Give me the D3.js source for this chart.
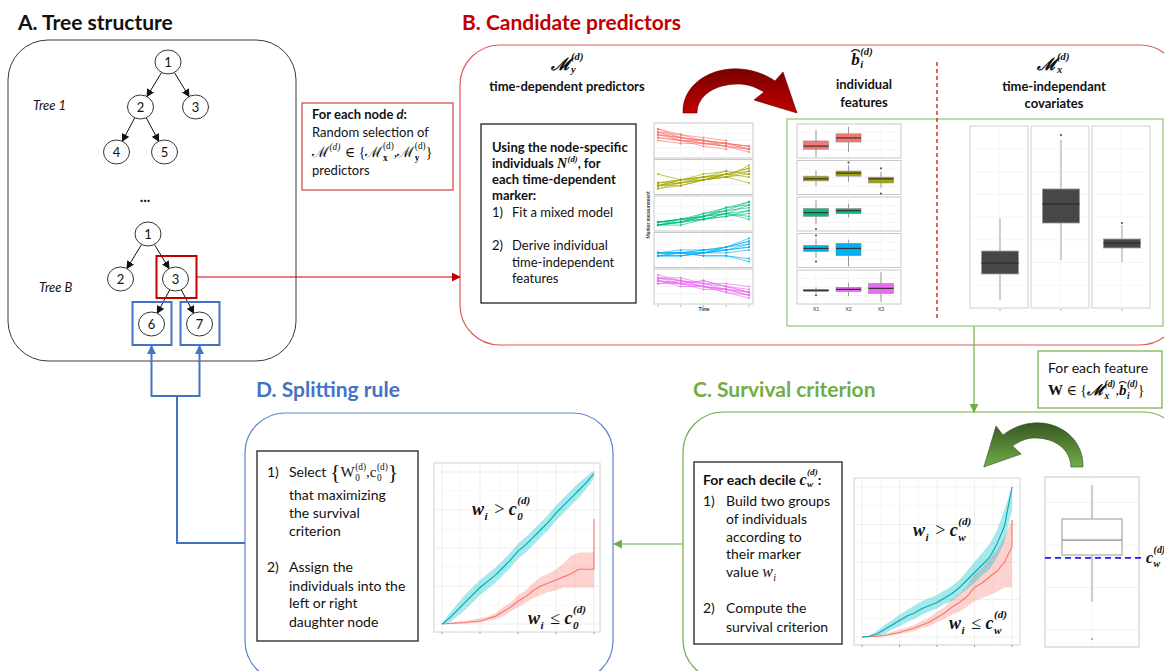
<!DOCTYPE html>
<html><head><meta charset="utf-8">
<script src="https://cdn.jsdelivr.net/npm/d3@7"></script>
<style>body{margin:0;background:#fff}svg{display:block}</style>
</head><body><svg id="c" width="1164" height="671"></svg>
<script>
// ---------------- DATA ----------------
const tree1Links = [["1",""],["2","1"],["3","1"],["4","2"],["5","2"]];
const treeBLinks = [["1",""],["2","1"],["3","1"],["6","3"],["7","3"]];
const treeLabels = ["Tree 1","Tree B"];

const markerTimes = [0,1,2,3,4];
const markerColors = ["#F8766D","#A3A500","#00BF7D","#00B0F6","#E76BF3"];
const marker1 = [[9,6,5,4,3],[8,6,5,3,2],[7,5,4,4,2],[8,7,5,4,3],[6,5,4,3,2],[7,6,4,3],[9,7,6,5],[5,4,4,3,1],[6,5,3,2],[8,5,5,4,3],[7,6,5,4,2]];
const marker2 = [[2,4,5,6,8],[3,4,5,7,6],[1,3,4,5,7],[2,3,5,5,9],[6,4,5,6],[3,3,4,6,5],[2,4,4,5,3],[1,2,4,6,8],[3,4,6,7],[2,3,4,5,6],[2,2,4,6,7]];
const marker3 = [[1,2,4,6,9],[2,3,4,7,8],[1,2,3,5,6],[2,3,5,6,7],[1,1,3,4,5],[2,3,4,5,3],[1,2,5,7,9],[2,2,3,4,6],[1,3,4,6],[2,3,3,5,4],[1,2,4,5,8]];
const marker4 = [[4,4,4,6,9],[3,4,5,6,8],[4,4,4,5,7],[3,3,4,5,6],[4,4,3,3,2],[3,3,4,4,5],[4,5,5,6,8],[3,4,3,3,1],[4,4,4,5],[3,3,4,6,7],[4,4,5,5,6]];
const marker5 = [[8,7,6,5,3],[7,6,5,4,2],[8,6,7,5,4],[6,7,5,4,2],[7,5,5,3,1],[8,7,6,6,5],[7,6,4,4,3],[6,6,5,3,2],[8,8,6,4],[7,6,7,5,3],[9,7,5,4,3]];
const markers = [marker1,marker2,marker3,marker4,marker5];

const featureNames = ["X1","X2","X3"];
// [feature, lo, q1, med, q3, hi, outliers]
const feat1 = [["X1",0.3,2.6,3.5,5.0,8.2,[]],["X2",1.8,4.7,5.9,7.1,9.1,[]]];
const feat2 = [["X1",2.6,4.0,4.6,5.4,7.1,[]],["X2",3.7,5.4,6.3,6.9,8.6,[9.4]],["X3",2.0,3.4,4.6,5.1,6.6,[7.7,0.3]]];
const feat3 = [["X1",2.0,4.3,5.4,6.6,9.1,[0.6]],["X2",4.0,5.1,6.0,6.6,8.0,[]]];
const feat4 = [["X1",2.9,4.7,5.6,6.5,8.5,[9.4,1.8]],["X2",0.3,3.5,5.6,7.1,8.2,[]]];
const feat5 = [["X1",3.1,3.7,4.0,4.3,4.9,[2.6]],["X2",2.3,3.7,4.3,4.9,6.3,[]],["X3",0.6,3.1,4.6,6.0,9.4,[]]];
const features = [feat1,feat2,feat3,feat4,feat5];

const covariates = [["C1",0.44,1.87,2.47,3.13,4.95,[]],["C2",2.64,4.67,5.71,6.54,9.23,[9.5]],["C3",2.53,3.30,3.57,3.79,4.56,[4.67]]];
const criterionBox = [9.53,5.41,6.29,7.53,2.65,[0.47]]; // hi, q1, med, q3, lo, outliers
const criterionCut = 5.24;

const survTime = [0,0.2,0.4,0.6,0.8,1.0,1.2,1.4,1.6,1.8,2.0,2.2,2.4,2.6,2.8,3.0,3.2,3.4,3.6,3.8,4.0];
const dHigh   = [0,0.04,0.09,0.14,0.19,0.24,0.28,0.32,0.37,0.42,0.48,0.52,0.57,0.62,0.67,0.73,0.78,0.83,0.88,0.93,0.99];
const dHighLo = [0,0.01,0.05,0.09,0.14,0.19,0.23,0.27,0.32,0.37,0.43,0.47,0.52,0.57,0.62,0.68,0.73,0.78,0.83,0.89,0.96];
const dHighHi = [0,0.07,0.13,0.19,0.24,0.29,0.33,0.37,0.42,0.47,0.53,0.57,0.62,0.67,0.72,0.78,0.83,0.88,0.93,0.97,1.01];
const dLow    = [0,0.003,0.007,0.01,0.015,0.02,0.035,0.05,0.08,0.11,0.15,0.18,0.22,0.25,0.27,0.29,0.31,0.33,0.36,0.36,0.36];
const dLowLo  = [0,0,0,0.002,0.005,0.01,0.02,0.03,0.05,0.08,0.11,0.14,0.17,0.19,0.21,0.22,0.24,0.24,0.24,0.24,0.24];
const dLowHi  = [0,0.01,0.015,0.02,0.03,0.04,0.05,0.07,0.11,0.14,0.19,0.22,0.27,0.31,0.33,0.36,0.40,0.45,0.47,0.47,0.47];
const dLowEnd = 0.69;
const cHigh   = [0,0.005,0.02,0.05,0.08,0.11,0.14,0.16,0.19,0.21,0.23,0.26,0.29,0.33,0.38,0.43,0.48,0.53,0.62,0.74,1.0];
const cHighLo = [0,0,0.005,0.02,0.05,0.07,0.10,0.12,0.15,0.17,0.19,0.22,0.24,0.28,0.32,0.36,0.41,0.45,0.53,0.63,0.85];
const cHighHi = [0,0.01,0.04,0.08,0.11,0.15,0.18,0.21,0.24,0.26,0.28,0.31,0.34,0.38,0.44,0.50,0.56,0.62,0.71,0.85,1.0];
const cLow    = [0,0.002,0.005,0.01,0.02,0.03,0.045,0.06,0.08,0.10,0.13,0.16,0.20,0.23,0.27,0.33,0.36,0.40,0.44,0.50,0.60];
const cLowLo  = [0,0,0,0.005,0.01,0.02,0.03,0.04,0.06,0.07,0.10,0.12,0.15,0.17,0.20,0.24,0.26,0.28,0.30,0.33,0.33];
const cLowHi  = [0,0.005,0.01,0.02,0.035,0.05,0.065,0.08,0.11,0.13,0.17,0.20,0.25,0.29,0.34,0.42,0.46,0.52,0.58,0.67,0.78];
const cLowEnd = 0.78;

// ---------------- DRAWING ----------------
const SANS = "Lato, 'Open Sans', sans-serif";
const SERIF = "'Liberation Serif', 'DejaVu Serif', serif";
const svg = d3.select("#c");
const defs = svg.append("defs");
function marker(id, color, w) {
  defs.append("marker").attr("id", id).attr("viewBox", "0 0 10 10").attr("refX", 9).attr("refY", 5)
    .attr("markerWidth", w).attr("markerHeight", w).attr("markerUnits", "userSpaceOnUse").attr("orient", "auto")
    .append("path").attr("d", "M0,0L10,5L0,10z").attr("fill", color);
}
marker("mBlack", "#111", 8); marker("mRed", "#C00000", 9); marker("mBlue", "#4472C4", 9); marker("mGreen", "#70AD47", 9);

function rich(parent, x, y, tokens, o = {}) {
  const g = parent.append("g");
  const size = o.size || 13, fam = o.family || SANS, wt = o.weight || "normal", st = o.style || "normal", fill = o.fill || "#111";
  let cx = 0;
  const mk = (txt, px, py, sz, f, w, s) => g.append("text").attr("x", px).attr("y", py)
    .attr("xml:space", "preserve").style("white-space", "pre")
    .style("font-family", f).style("font-size", sz + "px").style("font-weight", w).style("font-style", s)
    .attr("fill", fill).text(txt);
  tokens.forEach(tk => {
    if (typeof tk === "string") tk = { t: tk };
    const sz = tk.size || size, f = tk.family || fam, w = tk.weight || wt, s = tk.style || st;
    let bw = 0;
    if (tk.t) { const e = mk(tk.t, cx, tk.dy || 0, sz, f, w, s); bw = e.node().getComputedTextLength(); }
    if (tk.hat) {
      g.append("path").attr("d", `M${cx},${-sz * 0.78} Q${cx + bw * 0.5},${-sz * 1.02} ${cx + bw},${-sz * 0.78}`)
        .attr("fill", "none").attr("stroke", fill).attr("stroke-width", 1.1);
    }
    cx += bw;
    let sw = 0; const ss = sz * (tk.ssz || 0.62);
    if (tk.sup) { const e = mk(tk.sup, cx + 0.5, -sz * (tk.supUp || 0.45), ss, tk.supFamily || f, tk.supWeight || w, tk.supStyle || s); sw = Math.max(sw, e.node().getComputedTextLength() + 0.5); }
    if (tk.sub) { const e = mk(tk.sub, cx + 0.5, sz * (tk.subDown || 0.26), ss, tk.subFamily || f, tk.subWeight || w, tk.subStyle || s); sw = Math.max(sw, e.node().getComputedTextLength() + 0.5); }
    cx += sw + (tk.gap || 0);
  });
  const a = o.anchor || "start";
  const dx = a === "middle" ? -cx / 2 : a === "end" ? -cx : 0;
  g.attr("transform", `translate(${x + dx},${y})`);
  return g;
}
function txt(x, y, s, o = {}) {
  return svg.append("text").attr("x", x).attr("y", y).text(s)
    .attr("text-anchor", o.anchor || "start").style("font-family", o.family || SANS)
    .style("font-size", (o.size || 13) + "px").style("font-weight", o.weight || "normal")
    .style("font-style", o.style || "normal").attr("fill", o.fill || "#111");
}
function rect(x, y, w, h, stroke, sw, rx, fill) {
  return svg.append("rect").attr("x", x).attr("y", y).attr("width", w).attr("height", h)
    .attr("rx", rx || 0).attr("fill", fill || "none").attr("stroke", stroke).attr("stroke-width", sw);
}

// Panel frames
rect(8, 40, 288, 321, "#3a3a3a", 1, 40);
rect(460, 45, 720, 300, "#E05A5A", 1.2, 40);
rect(683, 412, 500, 268, "#70AD47", 1.2, 40);
rect(245, 413, 368, 268, "#5B85D0", 1.2, 40);

// Titles
txt(18, 30, "A. Tree structure", { size: 21, weight: "bold", fill: "#111" });
txt(462, 30, "B. Candidate predictors", { size: 21, weight: "bold", fill: "#C00000" });
txt(693, 397, "C. Survival criterion", { size: 21, weight: "bold", fill: "#70AD47" });
txt(256, 397, "D. Splitting rule", { size: 21, weight: "bold", fill: "#4472C4" });

// ---- Trees ----
function drawTree(links, rootX, rootY) {
  const root = d3.stratify().id(d => d[0]).parentId(d => d[1] || null)(links);
  d3.tree().nodeSize([50, 45]).separation((a, b) => a.depth === 1 ? 1.1 : 0.96)(root);
  const off = rootX - root.x;
  const nodes = root.descendants();
  nodes.forEach(n => { n.px = n.x + off; n.py = rootY + n.y; });
  const rx = 13, ry = 12;
  root.links().forEach(l => {
    const dx = l.target.px - l.source.px, dy = l.target.py - l.source.py;
    const ang = Math.atan2(dy, dx);
    const rad = (a) => (rx * ry) / Math.sqrt((ry * Math.cos(a)) ** 2 + (rx * Math.sin(a)) ** 2);
    const r1 = rad(ang);
    svg.append("line").attr("x1", l.source.px + r1 * Math.cos(ang)).attr("y1", l.source.py + r1 * Math.sin(ang))
      .attr("x2", l.target.px - r1 * Math.cos(ang)).attr("y2", l.target.py - r1 * Math.sin(ang))
      .attr("stroke", "#111").attr("stroke-width", 1).attr("marker-end", "url(#mBlack)");
  });
  const ng = svg.append("g").selectAll("g").data(nodes).join("g").attr("transform", d => `translate(${d.px},${d.py})`);
  ng.append("ellipse").attr("rx", rx).attr("ry", ry).attr("fill", "#fff").attr("stroke", "#333").attr("stroke-width", 1);
  ng.append("text").attr("text-anchor", "middle").attr("y", 5).text(d => d.id)
    .style("font-family", SANS).style("font-size", "13px").attr("fill", "#111");
  const m = {}; nodes.forEach(n => m[n.id] = n); return m;
}
const t1 = drawTree(tree1Links, 168, 62);
const tB = drawTree(treeBLinks, 148, 234);
txt(33, 110, treeLabels[0], { style: "italic", size: 13 });
txt(39, 292, treeLabels[1], { style: "italic", size: 13 });
txt(145, 202, "...", { anchor: "middle", size: 15, weight: "bold" });

// highlight boxes
const n3 = tB["3"], n6 = tB["6"], n7 = tB["7"];
rect(n3.px - 19, n3.py - 23, 40, 42, "#C00000", 2);
rect(n6.px - 19, n6.py - 22, 39, 43, "#4472C4", 2);
rect(n7.px - 19, n7.py - 22, 39, 43, "#4472C4", 2);

// connectors
svg.append("line").attr("x1", n3.px + 21).attr("y1", 277).attr("x2", 460).attr("y2", 277)
  .attr("stroke", "#C00000").attr("stroke-width", 1).attr("marker-end", "url(#mRed)");
const bl = "#4472C4";
svg.append("path").attr("d", `M245,543 H177 V396`).attr("fill", "none").attr("stroke", bl).attr("stroke-width", 2);
svg.append("path").attr("d", `M152,396 H199`).attr("fill", "none").attr("stroke", bl).attr("stroke-width", 2);
svg.append("line").attr("x1", n6.px).attr("y1", 397).attr("x2", n6.px).attr("y2", 346).attr("stroke", bl).attr("stroke-width", 2).attr("marker-end", "url(#mBlue)");
svg.append("line").attr("x1", n7.px).attr("y1", 397).attr("x2", n7.px).attr("y2", 346).attr("stroke", bl).attr("stroke-width", 2).attr("marker-end", "url(#mBlue)");
svg.append("line").attr("x1", 974).attr("y1", 326).attr("x2", 974).attr("y2", 412).attr("stroke", "#70AD47").attr("stroke-width", 1.2).attr("marker-end", "url(#mGreen)");
svg.append("line").attr("x1", 683).attr("y1", 544).attr("x2", 614).attr("y2", 544).attr("stroke", "#70AD47").attr("stroke-width", 1.2).attr("marker-end", "url(#mGreen)");

// ---- "For each node" box ----
rect(302, 103, 151, 87, "#D04040", 1.2);
rich(svg, 312, 119, ["For each node ", { t: "d", style: "italic" }, ":"], { weight: "bold", size: 13 });
txt(312, 137, "Random selection of", { size: 13 });
rich(svg, 312, 157, [
  { t: "ℳ", family: SERIF, size: 15, sup: "(d)", supStyle: "italic", gap: 1 }, { t: " ∈ {", family: SERIF, size: 14 },
  { t: "ℳ", family: SERIF, size: 15, sup: "(d)", sub: "x", subWeight: "bold", supUp: 0.55 }, { t: ",", family: SERIF, size: 14 },
  { t: "ℳ", family: SERIF, size: 15, sup: "(d)", sub: "y", subWeight: "bold", supUp: 0.55 }, { t: "}", family: SERIF, size: 14 }
], { size: 14 });
txt(312, 175, "predictors", { size: 13 });

// ---- Panel B ----
rich(svg, 567, 70, [{ t: "ℳ", sup: "(d)", sub: "y", supUp: 0.6, subDown: 0.18 }], { family: SERIF, weight: "bold", style: "italic", size: 17, anchor: "middle" });
txt(567, 91, "time-dependent predictors", { anchor: "middle", weight: "bold", size: 13 });
rect(481, 124, 155, 179, "#222", 1.3);
txt(492, 152, "Using the node-specific", { weight: "bold", size: 13 });
rich(svg, 492, 168, ["individuals ", { t: "N", family: SERIF, style: "italic", sup: "(d)", size: 14 }, ", for"], { weight: "bold", size: 13 });
txt(492, 184, "each time-dependent", { weight: "bold", size: 13 });
txt(492, 200, "marker:", { weight: "bold", size: 13 });
txt(492, 217, "1)", { size: 13 }); txt(512, 217, "Fit a mixed model", { size: 13 });
txt(492, 250, "2)", { size: 13 }); txt(512, 250, "Derive individual", { size: 13 });
txt(512, 267, "time-independent", { size: 13 }); txt(512, 283, "features", { size: 13 });

// spaghetti panels
const spX = d3.scaleLinear().domain([0, 4]).range([658, 749]);
markers.forEach((inds, i) => {
  const top = 123 + i * 36.5, h = 35;
  const y = d3.scaleLinear().domain([0, 10]).range([top + h - 3, top + 3]);
  const g = svg.append("g");
  g.append("rect").attr("x", 654).attr("y", top).attr("width", 99).attr("height", h).attr("fill", "#fff").attr("stroke", "#c8c8c8").attr("stroke-width", 1);
  [1, 2, 3].forEach(t => g.append("line").attr("x1", spX(t)).attr("x2", spX(t)).attr("y1", top).attr("y2", top + h).attr("stroke", "#eee").attr("stroke-width", 0.6));
  [2.5, 5, 7.5].forEach(v => g.append("line").attr("x1", 654).attr("x2", 753).attr("y1", y(v)).attr("y2", y(v)).attr("stroke", "#eee").attr("stroke-width", 0.6));
  const line = d3.line().x((d, k) => spX(markerTimes[k])).y(d => y(d));
  inds.forEach(ind => {
    g.append("path").attr("d", line(ind)).attr("fill", "none").attr("stroke", markerColors[i]).attr("stroke-width", 0.9).attr("stroke-opacity", 0.7);
    ind.forEach((v, k) => g.append("circle").attr("cx", spX(markerTimes[k])).attr("cy", y(v)).attr("r", 1.1).attr("fill", markerColors[i]).attr("fill-opacity", 0.8));
  });
});
markerTimes.forEach(t => svg.append("line").attr("x1", spX(t)).attr("x2", spX(t)).attr("y1", 305).attr("y2", 307).attr("stroke", "#888").attr("stroke-width", 0.6));
txt(704, 311, "Time", { anchor: "middle", size: 5, weight: "bold", fill: "#333" });
svg.append("text").attr("transform", "translate(650,215) rotate(-90)").attr("text-anchor", "middle").text("Marker measurement")
  .style("font-family", SANS).style("font-size", "5px").style("font-weight", "bold").attr("fill", "#333");

// curved red arrow
const gr = defs.append("linearGradient").attr("id", "gRed").attr("x1", "0").attr("y1", "0").attr("x2", "0").attr("y2", "1");
gr.append("stop").attr("offset", "0").attr("stop-color", "#7a0000");
gr.append("stop").attr("offset", "1").attr("stop-color", "#C00000");
const arrowPath = "M683,113 C682,85 710,67 740,69 C755,70 766,75 775,81 L783,72 L797,113 L754,100 L764,92 C754,86 746,84 738,84 C716,84 697,95 697,113 Z";
svg.append("path").attr("d", arrowPath).attr("fill", "url(#gRed)").attr("stroke", "#5a0000").attr("stroke-width", 0.6);

// green rect + feature boxplots
rect(787, 119, 376, 207, "#A9D18E", 1.5);
rich(svg, 862, 65, [{ t: "b", hat: true, sup: "(d)", sub: "i", supUp: 0.6, subDown: 0.18 }], { family: SERIF, weight: "bold", style: "italic", size: 17, anchor: "middle" });
txt(864, 89, "individual", { anchor: "middle", weight: "bold", size: 13 });
txt(864, 107, "features", { anchor: "middle", weight: "bold", size: 13 });
svg.append("line").attr("x1", 937).attr("x2", 937).attr("y1", 62).attr("y2", 318).attr("stroke", "#C00000").attr("stroke-width", 1.2).attr("stroke-dasharray", "4,3");
rich(svg, 1053, 70, [{ t: "ℳ", sup: "(d)", sub: "x", supUp: 0.6, subDown: 0.18 }], { family: SERIF, weight: "bold", style: "italic", size: 17, anchor: "middle" });
txt(1054, 91, "time-independant", { anchor: "middle", weight: "bold", size: 13 });
txt(1054, 108, "covariates", { anchor: "middle", weight: "bold", size: 13 });

function drawBox(g, cx, bw, y, s, o) {
  const [lo, q1, med, q3, hi, outs] = s;
  g.append("line").attr("x1", cx).attr("x2", cx).attr("y1", y(hi)).attr("y2", y(q3)).attr("stroke", o.wh).attr("stroke-width", o.whw);
  g.append("line").attr("x1", cx).attr("x2", cx).attr("y1", y(q1)).attr("y2", y(lo)).attr("stroke", o.wh).attr("stroke-width", o.whw);
  g.append("rect").attr("x", cx - bw / 2).attr("y", y(q3)).attr("width", bw).attr("height", y(q1) - y(q3))
    .attr("fill", o.fill).attr("stroke", o.stroke).attr("stroke-width", o.sw);
  g.append("line").attr("x1", cx - bw / 2).attr("x2", cx + bw / 2).attr("y1", y(med)).attr("y2", y(med)).attr("stroke", o.med).attr("stroke-width", o.medw);
  outs.forEach(v => g.append("circle").attr("cx", cx).attr("cy", y(v)).attr("r", o.or).attr("fill", o.oc));
}
const fx = d3.scalePoint().domain(featureNames).range([816, 881]);
features.forEach((fs, i) => {
  const top = 124 + i * 36.5, h = 34;
  const y = d3.scaleLinear().domain([0, 10]).range([top + h, top]);
  const g = svg.append("g");
  g.append("rect").attr("x", 797).attr("y", top).attr("width", 104).attr("height", h).attr("fill", "#fff").attr("stroke", "#c8c8c8").attr("stroke-width", 1);
  [2.5, 5, 7.5].forEach(v => g.append("line").attr("x1", 797).attr("x2", 901).attr("y1", y(v)).attr("y2", y(v)).attr("stroke", "#eee").attr("stroke-width", 0.6));
  featureNames.forEach(f => g.append("line").attr("x1", fx(f)).attr("x2", fx(f)).attr("y1", top).attr("y2", top + h).attr("stroke", "#f0f0f0").attr("stroke-width", 0.6));
  fs.forEach(d => drawBox(g, fx(d[0]), 25, y, d.slice(1), { fill: markerColors[i], stroke: "#888", sw: 0.6, med: "#333", medw: 1.2, wh: "#999", whw: 1, or: 1, oc: "#444" }));
});
featureNames.forEach(f => txt(fx(f), 311, f, { anchor: "middle", size: 5, fill: "#333" }));

// covariate boxplots
const covY = d3.scaleLinear().domain([0, 10]).range([308, 126]);
covariates.forEach((c, i) => {
  const x0 = 970 + i * 61, g = svg.append("g");
  g.append("rect").attr("x", x0).attr("y", 126).attr("width", 58).attr("height", 182).attr("fill", "#fff").attr("stroke", "#cfcfcf").attr("stroke-width", 1);
  [1.25, 2.5, 3.75, 5, 6.25, 7.5, 8.75].forEach(v => g.append("line").attr("x1", x0).attr("x2", x0 + 58).attr("y1", covY(v)).attr("y2", covY(v)).attr("stroke", "#f0f0f0").attr("stroke-width", 0.7));
  g.append("line").attr("x1", x0 + 29).attr("x2", x0 + 29).attr("y1", 126).attr("y2", 308).attr("stroke", "#f3f3f3").attr("stroke-width", 0.7);
  drawBox(g, x0 + 30, 37, covY, c.slice(1), { fill: "#474747", stroke: "#9a9a9a", sw: 0.8, med: "#2a2a2a", medw: 1.2, wh: "#cfcfcf", whw: 2, or: 1.1, oc: "#555" });
  g.append("line").attr("x1", x0 + 30).attr("x2", x0 + 30).attr("y1", 309).attr("y2", 311).attr("stroke", "#aaa");
});

// ---- "For each feature" box ----
rect(1038, 351, 124, 57, "#70AD47", 1.2);
txt(1048, 373, "For each feature", { size: 14 });
rich(svg, 1048, 395, [
  { t: "W", weight: "bold", size: 15 }, { t: " ∈ {", size: 14 },
  { t: "ℳ", style: "italic", weight: "bold", size: 15, sup: "(d)", sub: "x", supUp: 0.55 }, { t: ",", size: 14 },
  { t: "b", hat: true, style: "italic", weight: "bold", size: 15, sup: "(d)", sub: "i", supUp: 0.55 }, { t: "}", size: 14 }
], { family: SERIF, size: 14 });

// ---- survival plots ----
function survPlot(fr, xr, yr, hi, hiLo, hiHi, lo, loLo, loHi, loEnd, labTop, labBot, subTxt) {
  const g = svg.append("g");
  const x = d3.scaleLinear().domain([0, 4]).range(xr);
  const y = d3.scaleLinear().domain([0, 1]).range(yr);
  g.append("rect").attr("x", fr[0]).attr("y", fr[1]).attr("width", fr[2]).attr("height", fr[3]).attr("fill", "#fff").attr("stroke", "#d9d9d9").attr("stroke-width", 1.2);
  d3.range(0, 4.01, 0.5).forEach(t => g.append("line").attr("x1", x(t)).attr("x2", x(t)).attr("y1", fr[1]).attr("y2", fr[1] + fr[3]).attr("stroke", t % 1 ? "#f5f5f5" : "#ebebeb").attr("stroke-width", 0.8));
  d3.range(0, 1.01, 0.125).forEach(v => g.append("line").attr("x1", fr[0]).attr("x2", fr[0] + fr[2]).attr("y1", y(v)).attr("y2", y(v)).attr("stroke", (v * 4) % 1 ? "#f5f5f5" : "#ebebeb").attr("stroke-width", 0.8));
  d3.range(0, 5).forEach(t => g.append("line").attr("x1", x(t)).attr("x2", x(t)).attr("y1", fr[1] + fr[3]).attr("y2", fr[1] + fr[3] + 2).attr("stroke", "#999"));
  const area = (a, b) => d3.area().x((d, k) => x(survTime[k])).y0((d, k) => y(a[k])).y1((d, k) => y(b[k])).curve(d3.curveLinear)(survTime);
  const ln = (a) => d3.line().x((d, k) => x(survTime[k])).y((d, k) => y(a[k])).curve(d3.curveLinear)(survTime);
  g.append("path").attr("d", area(loLo, loHi)).attr("fill", "#F8766D").attr("fill-opacity", 0.32);
  g.append("path").attr("d", area(hiLo, hiHi)).attr("fill", "#00BFC4").attr("fill-opacity", 0.35);
  g.append("path").attr("d", ln(lo)).attr("fill", "none").attr("stroke", "#F8766D").attr("stroke-width", 1.1);
  g.append("line").attr("x1", x(4)).attr("x2", x(4)).attr("y1", y(lo[lo.length - 1])).attr("y2", y(loEnd)).attr("stroke", "#F8766D").attr("stroke-width", 1.1);
  g.append("path").attr("d", ln(hi)).attr("fill", "none").attr("stroke", "#00A9B5").attr("stroke-width", 1.1);
  const mo = { family: SERIF, weight: "bold", style: "italic", size: 18 };
  rich(svg, labTop[0], labTop[1], [{ t: "w", sub: "i", gap: 2 }, { t: " > ", style: "normal", weight: "normal" }, { t: "c", sup: "(d)", sub: subTxt, supUp: 0.6 }], mo);
  rich(svg, labBot[0], labBot[1], [{ t: "w", sub: "i", gap: 2 }, { t: " ≤ ", style: "normal", weight: "normal" }, { t: "c", sup: "(d)", sub: subTxt, supUp: 0.6 }], mo);
}
survPlot([434, 463, 166, 169], [442, 594], [624, 472], dHigh, dHighLo, dHighHi, dLow, dLowLo, dLowHi, dLowEnd, [472, 515], [528, 624], "0");
survPlot([854, 478, 166, 167], [862, 1012], [637, 487], cHigh, cHighLo, cHighHi, cLow, cLowLo, cLowHi, cLowEnd, [913, 536], [949, 629], "w");

// ---- Panel D text ----
rect(257, 451, 161, 190, "#222", 1.3);
const dT = { size: 14 };
txt(267, 477, "1)", dT);
rich(svg, 289, 477, ["Select ", { t: "{", family: SERIF, size: 22, dy: 2 },
  { t: "W", family: SERIF, size: 15, sup: "(d)", sub: "0" }, { t: ",", family: SERIF, size: 15 },
  { t: "c", family: SERIF, size: 15, sup: "(d)", sub: "0" }, { t: "}", family: SERIF, size: 22, dy: 2 }], { size: 14 });
txt(289, 500, "that maximizing", dT); txt(289, 518, "the survival", dT); txt(289, 536, "criterion", dT);
txt(267, 572, "2)", dT); txt(289, 572, "Assign the", dT);
txt(289, 591, "individuals into the", dT); txt(289, 608, "left or right", dT); txt(289, 627, "daughter node", dT);

// ---- Panel C text ----
rect(694, 462, 148, 182, "#222", 1.3);
rich(svg, 703, 485, ["For each decile ", { t: "c", family: SERIF, style: "italic", size: 16, sup: "(d)", sub: "w", supUp: 0.6, subDown: 0.14, ssz: 0.58 }, ":"], { weight: "bold", size: 14 });
txt(703, 506, "1)", dT); txt(726, 506, "Build two groups", dT);
txt(726, 524, "of individuals", dT); txt(726, 542, "according to", dT); txt(726, 559, "their marker", dT);
rich(svg, 726, 577, ["value ", { t: "w", family: SERIF, style: "italic", size: 16, sub: "i" }], { size: 14 });
txt(703, 613, "2)", dT); txt(726, 613, "Compute the", dT); txt(726, 632, "survival criterion", dT);

// criterion boxplot
const cbY = d3.scaleLinear().domain([0, 10]).range([647, 477]);
{
  const g = svg.append("g");
  g.append("rect").attr("x", 1045).attr("y", 477).attr("width", 94).attr("height", 170).attr("fill", "#fff").attr("stroke", "#d5d5d5").attr("stroke-width", 1.3);
  [1, 3.5, 6, 8.5].forEach(v => g.append("line").attr("x1", 1045).attr("x2", 1139).attr("y1", cbY(v)).attr("y2", cbY(v)).attr("stroke", "#f0f0f0").attr("stroke-width", 0.8));
  g.append("line").attr("x1", 1092).attr("x2", 1092).attr("y1", 477).attr("y2", 647).attr("stroke", "#f3f3f3").attr("stroke-width", 0.8);
  const [hi, q1, med, q3, lo, outs] = criterionBox;
  drawBox(g, 1092, 60, cbY, [lo, q1, med, q3, hi, outs], { fill: "#fff", stroke: "#b5b5b5", sw: 1.4, med: "#8a8a8a", medw: 1.3, wh: "#cdcdcd", whw: 2.2, or: 1, oc: "#999" });
  g.append("line").attr("x1", 1045).attr("x2", 1141).attr("y1", cbY(criterionCut)).attr("y2", cbY(criterionCut)).attr("stroke", "#1a1aff").attr("stroke-width", 1.8).attr("stroke-dasharray", "6,4");
}
rich(svg, 1146, 563, [{ t: "c", sup: "(d)", sub: "w", supUp: 0.6 }], { family: SERIF, weight: "bold", style: "italic", size: 16 });

// curved green arrow
const gg = defs.append("linearGradient").attr("id", "gGreen").attr("x1", "0").attr("y1", "0").attr("x2", "0").attr("y2", "1");
gg.append("stop").attr("offset", "0").attr("stop-color", "#385723");
gg.append("stop").attr("offset", "1").attr("stop-color", "#70AD47");
svg.append("path").attr("d", arrowPath).attr("transform", "translate(1083,354) scale(-0.87,1) translate(-683,0)")
  .attr("fill", "url(#gGreen)").attr("stroke", "#2f4a1d").attr("stroke-width", 0.6);
</script></body></html>
